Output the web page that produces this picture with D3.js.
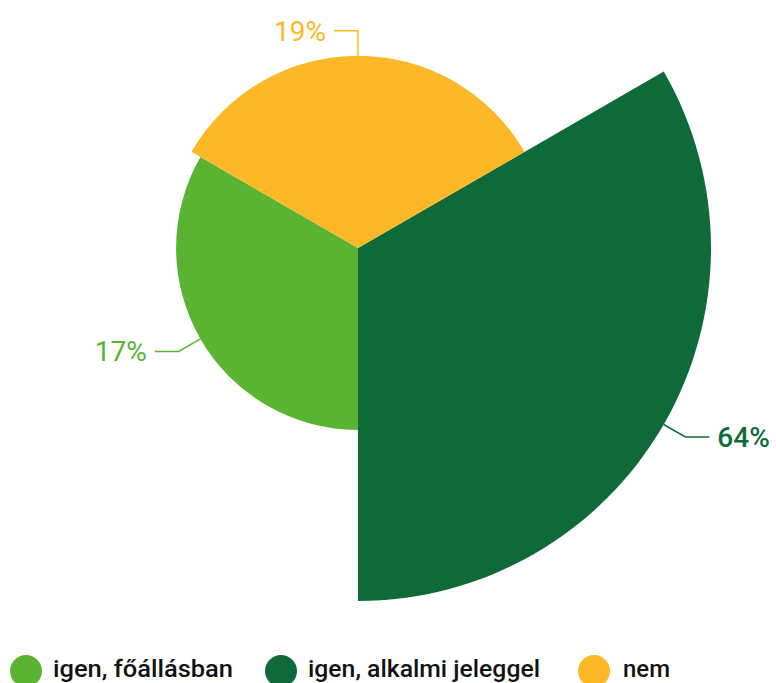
<!DOCTYPE html>
<html>
<head>
<meta charset="utf-8">
<script src="https://cdn.jsdelivr.net/npm/d3@7"></script>
<style>
  body { margin: 0; background: #fff; }
  svg { display: block; }
</style>
</head>
<body>
<svg id="chart"></svg>
<script>
(function() {

  const categories = ['igen, főállásban', 'igen, alkalmi jeleggel', 'nem'];
  const values = [17, 64, 19];
  const colors = ['#5ab432', '#0f6a3a', '#fdb827'];
  const labelWeights = [400, 500, 400];

  const width = 776;
  const height = 683;
  const cx = 358;
  const cy = 248;
  const maxRadius = 353;
  const leaderOut = 25;
  const leaderFlat = 24;

  const svg = d3.select('#chart')
    .attr('width', width)
    .attr('height', height);

  const data = categories.map(function(c, i) {
    return { name: c, value: values[i], color: colors[i], weight: labelWeights[i] };
  });

  // every slice gets the same angle, area of the slice carries the value
  const pie = d3.pie()
    .sort(null)
    .value(function() { return 1; })
    .startAngle(5 * Math.PI / 3)
    .endAngle(-Math.PI / 3);

  const radius = d3.scaleSqrt().domain([0, d3.max(values)]).range([0, maxRadius]);

  const arcs = pie(data);

  const pieGroup = svg.append('g')
    .attr('transform', 'translate(' + cx + ',' + cy + ')');

  pieGroup.selectAll('path')
    .data(arcs)
    .enter()
    .append('path')
    .attr('d', function(d) {
      return d3.arc().innerRadius(0).outerRadius(radius(d.data.value))(d);
    })
    .attr('fill', function(d) { return d.data.color; });

  // labels with leader lines
  arcs.forEach(function(d) {
    const mid = (d.startAngle + d.endAngle) / 2;
    const r = radius(d.data.value);
    const sx = Math.sin(mid), sy = -Math.cos(mid);
    const p0 = [sx * r, sy * r];
    const p1 = [sx * (r + leaderOut), sy * (r + leaderOut)];
    const side = sx > 0.01 ? 1 : -1;
    const p2 = [p1[0] + side * leaderFlat, p1[1]];

    pieGroup.append('polyline')
      .attr('points', [p0, p1, p2].map(function(p) { return p.join(','); }).join(' '))
      .attr('fill', 'none')
      .attr('stroke', d.data.color)
      .attr('stroke-width', 1.5);

    pieGroup.append('text')
      .attr('x', p2[0] + side * 8)
      .attr('y', p2[1] + 10)
      .attr('text-anchor', side > 0 ? 'start' : 'end')
      .style('font-family', 'Roboto, sans-serif')
      .style('font-size', '28px')
      .style('font-weight', d.data.weight)
      .attr('fill', d.data.color)
      .text(d.data.value + '%');
  });

  // legend (condensed type in the original, stretched to its width)
  const legendX = [26, 281, 594];
  const legendTextW = [180, 232, 47];
  const legend = svg.append('g').attr('class', 'legend');

  const items = legend.selectAll('g')
    .data(data)
    .enter()
    .append('g')
    .attr('transform', function(d, i) { return 'translate(' + legendX[i] + ',671)'; });

  items.append('circle')
    .attr('r', 16)
    .attr('fill', function(d) { return d.color; });

  items.append('text')
    .attr('x', function(d, i) { return i === 2 ? 29 : 27; })
    .attr('y', 6)
    .attr('textLength', function(d, i) { return legendTextW[i]; })
    .attr('lengthAdjust', 'spacingAndGlyphs')
    .style('font-family', 'Roboto, sans-serif')
    .style('font-size', '23px')
    .style('font-weight', 500)
    .attr('fill', '#111')
    .text(function(d) { return d.name; });

})();
</script>
</body>
</html>
